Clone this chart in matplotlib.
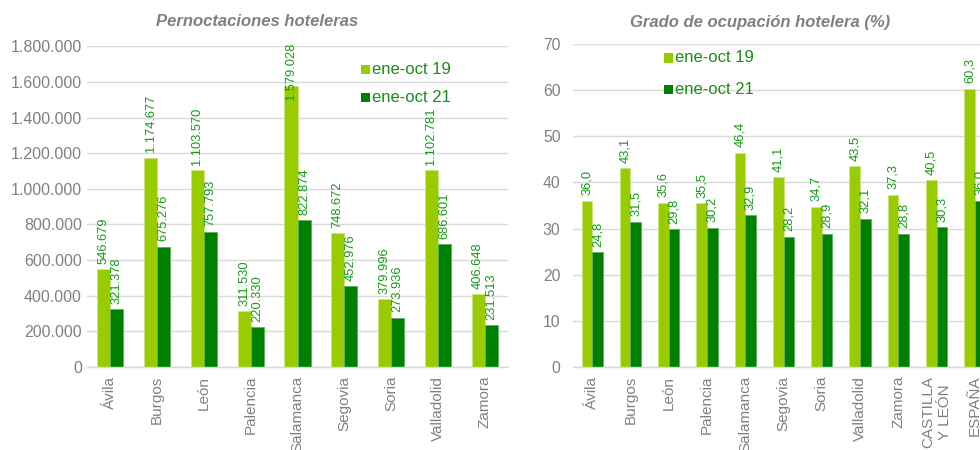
import matplotlib
matplotlib.use("Agg")
import matplotlib.pyplot as plt
from matplotlib.patches import Rectangle
import numpy as np

plt.rcParams['font.family'] = ['Liberation Sans', 'DejaVu Sans']

# ---- data ----
prov_left = ["Ávila", "Burgos", "León", "Palencia", "Salamanca", "Segovia",
             "Soria", "Valladolid", "Zamora"]
pern_19 = [546679, 1174677, 1103570, 311530, 1579028, 748672, 379996, 1102781, 406648]
pern_21 = [321378, 675276, 757793, 220330, 822874, 452976, 273936, 686601, 231513]

prov_right = ["Ávila", "Burgos", "León", "Palencia", "Salamanca", "Segovia",
              "Soria", "Valladolid", "Zamora", "CASTILLA\nY LEÓN", "ESPAÑA"]
ocup_19 = [36.0, 43.1, 35.6, 35.5, 46.4, 41.1, 34.7, 43.5, 37.3, 40.5, 60.3]
ocup_21 = [24.8, 31.5, 29.8, 30.2, 32.9, 28.2, 28.9, 32.1, 28.8, 30.3, 36.0]

series_names = ["ene-oct 19", "ene-oct 21"]
yticks_left = [0, 200000, 400000, 600000, 800000, 1000000, 1200000, 1400000, 1600000, 1800000]
yticks_right = [0, 10, 20, 30, 40, 50, 60, 70]

# ---- style ----
C_LIGHT = "#99cc00"
C_DARK = "#008000"
C_LABEL = "#169a16"
C_GRAY = "#808080"
C_GRID = "#d9d9d9"

W, H = 980, 450
fig = plt.figure(figsize=(W / 100, H / 100), dpi=100)


def fmt_int(v):
    return f"{v:,}".replace(",", ".")


def fmt_dec(v):
    return f"{v:.1f}".replace(".", ",")


def make_axes(x0, x1, ytop, ybot):
    return fig.add_axes([x0 / W, 1 - ybot / H, (x1 - x0) / W, (ybot - ytop) / H])


def style_axes(ax, ylim, yticks, ytl, ypad, ysize):
    ax.set_ylim(*ylim)
    ax.set_yticks(yticks)
    ax.set_yticklabels(ytl)
    ax.grid(axis="y", color=C_GRID, linewidth=1.0)
    ax.set_axisbelow(True)
    for s in ["top", "right", "left"]:
        ax.spines[s].set_visible(False)
    ax.spines["bottom"].set_color(C_GRID)
    ax.spines["bottom"].set_linewidth(1.0)
    ax.tick_params(axis="both", length=0, colors=C_GRAY)
    ax.tick_params(axis="y", labelsize=ysize, pad=ypad)
    ax.tick_params(axis="x", labelsize=11, pad=6.5)


def bars(ax, cats, v1, v2, bw, fmt):
    x = np.arange(len(cats))
    b1 = ax.bar(x - bw / 2, v1, bw, color=C_LIGHT, edgecolor="#c9e680", linewidth=0.6)
    b2 = ax.bar(x + bw / 2, v2, bw, color=C_DARK, edgecolor="#5fae5f", linewidth=0.6)
    anns = []
    for bs, vals in ((b1, v1), (b2, v2)):
        for r, v in zip(bs, vals):
            a = ax.annotate(fmt(v), (r.get_x() + r.get_width() / 2, v),
                            xytext=(0, 4), textcoords="offset points",
                            rotation=90, ha="center", va="bottom",
                            fontsize=9.3, color=C_LABEL, annotation_clip=False)
            anns.append(a)
    ax.set_xlim(-0.5, len(cats) - 0.5)
    ax.set_xticks(x)
    ax.set_xticklabels(cats, rotation=90, va="top", ha="center", multialignment="center")
    return anns


# left chart
axL = make_axes(87, 508, 46.3, 366.7)
style_axes(axL, (0, 1800000), yticks_left, [fmt_int(v) for v in yticks_left], 3.6, 11.5)
annsL = bars(axL, prov_left, pern_19, pern_21, 0.28, fmt_int)

# right chart (extends beyond the figure edge, as in the reference)
axR = make_axes(573, 994, 44.3, 366.7)
style_axes(axR, (0, 70), yticks_right, [str(v) for v in yticks_right], 9, 11.3)
annsR = bars(axR, prov_right, ocup_19, ocup_21, 0.277, fmt_dec)

# titles
fig.text(257 / W, 1 - 22 / H, "Pernoctaciones hoteleras", ha="center", va="center",
         fontsize=12, fontweight="bold", fontstyle="italic", color=C_GRAY)
fig.text(760 / W, 1 - 22 / H, "Grado de ocupación hotelera (%)", ha="center", va="center",
         fontsize=12, fontweight="bold", fontstyle="italic", color=C_GRAY)


# legends (manual, to place them like the reference)
def legend(x, ys):
    for name, col, y in zip(series_names, (C_LIGHT, C_DARK), ys):
        fig.add_artist(Rectangle((x / W, 1 - (y + 4.5) / H), 9 / W, 9 / H,
                                 transform=fig.transFigure, color=col, lw=0))
        fig.text((x + 11) / W, 1 - y / H, name, ha="left", va="center",
                 fontsize=12, color="#1a8c1a")


legend(361, [69, 97])
legend(664, [58, 89])

# keep labels inside the plot area (as the spreadsheet does)
fig.canvas.draw()
rend = fig.canvas.get_renderer()
for ax, anns in ((axL, annsL), (axR, annsR)):
    top_lim = ax.get_window_extent(rend).y1 + 4
    for a in anns:
        bb = a.get_window_extent(rend)
        if bb.y1 > top_lim:
            d = (bb.y1 - top_lim) * 72 / fig.dpi
            a.xyann = (0, 4 - d)

fig.savefig("out.png", dpi=100)
